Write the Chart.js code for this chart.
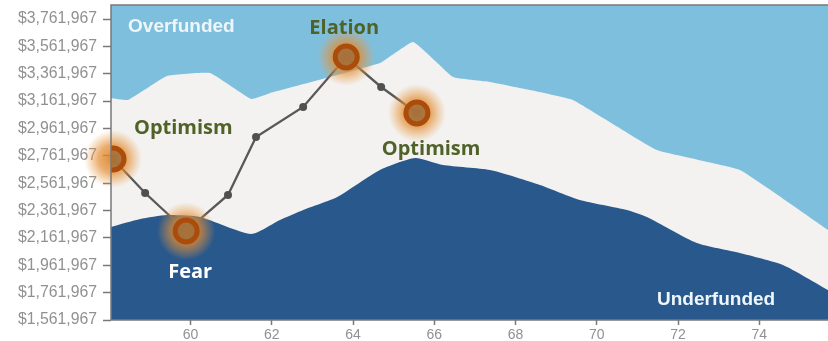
<!DOCTYPE html>
<html>
<head>
<meta charset="utf-8">
<script src="https://cdn.jsdelivr.net/npm/chart.js@4"></script>
<style>
	html, body { margin: 0; padding: 0; background: #fff; }
	#wrap { width: 828px; height: 341px; }
</style>
</head>
<body>
<div id="wrap"><canvas id="cycle" width="828" height="341"></canvas></div>
<script>
// funding bands (age, portfolio value)
const upperYears = [58.04, 58.46, 59.42, 60.48, 61.49, 61.96, 64.66, 65.48, 66.46, 67.37, 68.35, 69.41, 71.48, 73.52, 75.69];
const upperValues = [3185000, 3170000, 3345000, 3367000, 3177000, 3221000, 3440000, 3594000, 3338000, 3302000, 3243000, 3170000, 2804000, 2658000, 2220000];

const lowerYears = [58.04, 58.76, 59.42, 60.23, 61.49, 62.2, 62.77, 63.61, 64.66, 65.52, 66.21, 67.37, 68.6, 69.58, 70.74, 71.23, 72.46, 73.52, 74.58, 75.69];
const lowerValues = [2242000, 2300000, 2329000, 2315000, 2191000, 2293000, 2366000, 2461000, 2658000, 2746000, 2695000, 2658000, 2549000, 2439000, 2366000, 2315000, 2125000, 2052000, 1964000, 1781000];

// investor path
const pathYears = [58.09, 58.88, 59.89, 60.92, 61.61, 62.77, 63.83, 64.69, 65.57];
const pathValues = [2739000, 2490000, 2212000, 2476000, 2900000, 3119000, 3484000, 3265000, 3075000];
const markerIdx = [0, 2, 6, 8];

// text notes
const noteText = ['Optimism', 'Fear', 'Elation', 'Optimism'];
const noteYears = [59.82, 59.99, 63.78, 65.92];
const noteValues = [2962000, 1913000, 3696000, 2812000];

const bandText = ['Overfunded', 'Underfunded'];
const bandYears = [58.46, 71.48];
const bandValues = [3703500, 1708000];

const xTicks = [60, 62, 64, 66, 68, 70, 72, 74];
const yTicks = [1561967, 1761967, 1961967, 2161967, 2361967, 2561967, 2761967, 2961967, 3161967, 3361967, 3561967, 3761967];

const LIGHT = 'rgb(127,191,222)';
const MID = 'rgb(243,242,240)';
const DARK = 'rgb(41,88,140)';
const GREEN = 'rgb(79,98,40)';

function pts(xs, ys) {
	return xs.map((x, i) => ({ x: x, y: ys[i] }));
}

function noPad(s) {
	s.paddingTop = 0;
	s.paddingBottom = 0;
	s.paddingLeft = 0;
	s.paddingRight = 0;
}

const markers = markerIdx.map(i => ({ x: pathYears[i], y: pathValues[i] }));

const decor = {
	id: 'decor',
	beforeDatasetsDraw(chart) {
		const { ctx, chartArea: a } = chart;
		ctx.save();
		ctx.fillStyle = MID;
		ctx.fillRect(a.left, a.top, a.right - a.left, a.bottom - a.top);
		ctx.restore();
	},
	beforeDatasetDraw(chart, args) {
		if (args.meta.label !== 'Markers') return;
		const ctx = chart.ctx;
		ctx.save();
		args.meta.data.forEach(p => {
			let g = ctx.createRadialGradient(p.x, p.y, 0, p.x, p.y, 29);
			g.addColorStop(0, 'rgba(222,130,40,0.95)');
			g.addColorStop(0.5, 'rgba(226,140,50,0.7)');
			g.addColorStop(1, 'rgba(235,155,70,0)');
			ctx.fillStyle = g;
			ctx.beginPath();
			ctx.arc(p.x, p.y, 29, 0, Math.PI * 2);
			ctx.fill();
		});
		ctx.restore();
	},
	afterDatasetsDraw(chart) {
		const { ctx, chartArea: a, scales } = chart;
		ctx.save();
		ctx.strokeStyle = 'rgb(120,120,120)';
		ctx.lineWidth = 1.5;
		ctx.beginPath();
		ctx.moveTo(a.right + 2, a.top);
		ctx.lineTo(a.left, a.top);
		ctx.lineTo(a.left, a.bottom);
		ctx.lineTo(a.right + 2, a.bottom);
		ctx.stroke();

		ctx.textBaseline = 'middle';
		ctx.textAlign = 'center';
		ctx.font = 'bold 20px "Open Sans"';
		for (let i = 0; i < noteText.length; i++) {
			ctx.fillStyle = noteText[i] == 'Fear' ? '#ffffff' : GREEN;
			ctx.fillText(noteText[i], scales.x.getPixelForValue(noteYears[i]), scales.y.getPixelForValue(noteValues[i]));
		}
		ctx.textAlign = 'left';
		ctx.font = 'bold 19px "Liberation Sans"';
		ctx.fillStyle = 'rgb(238,246,250)';
		for (let i = 0; i < bandText.length; i++) {
			ctx.fillText(bandText[i], scales.x.getPixelForValue(bandYears[i]), scales.y.getPixelForValue(bandValues[i]));
		}
		ctx.restore();
	}
};

var ctx = document.getElementById('cycle').getContext('2d');
var chart = new Chart(ctx, {
	type: 'line',
	data: {
		datasets: [{
			label: 'Overfunded',
			data: pts(upperYears, upperValues),
			borderWidth: 0,
			borderColor: 'rgba(0,0,0,0)',
			backgroundColor: LIGHT,
			fill: 'end',
			pointRadius: 0,
			tension: 0.1,
			order: 5
		}, {
			label: 'Underfunded',
			data: pts(lowerYears, lowerValues),
			borderWidth: 0,
			borderColor: 'rgba(0,0,0,0)',
			backgroundColor: DARK,
			fill: 'start',
			pointRadius: 0,
			tension: 0.2,
			order: 4
		}, {
			label: 'Path',
			data: pts(pathYears, pathValues),
			borderColor: 'rgb(88,88,88)',
			borderWidth: 2.3,
			pointRadius: 4,
			pointBackgroundColor: 'rgb(80,80,80)',
			pointBorderWidth: 0,
			fill: false,
			tension: 0,
			order: 3
		}, {
			label: 'Markers',
			data: markers,
			showLine: false,
			pointRadius: 11,
			pointBorderWidth: 5,
			pointBorderColor: 'rgb(172,76,10)',
			pointBackgroundColor: 'rgba(160,110,60,0.85)',
			order: 1
		}]
	},
	options: {
		responsive: false,
		animation: false,
		layout: { autoPadding: false, padding: { top: 5, right: 0, left: 0, bottom: 0 } },
		plugins: {
			legend: { display: false },
			tooltip: { enabled: false }
		},
		scales: {
			x: {
				type: 'linear',
				min: 58.04,
				max: 75.69,
				afterBuildTicks: s => { s.ticks = xTicks.map(v => ({ value: v })); },
				afterFit: s => { s.height = 21; noPad(s); },
				grid: { drawOnChartArea: false, tickLength: 5, color: 'rgb(120,120,120)', tickWidth: 1.5 },
				border: { display: false },
				ticks: { color: 'rgb(145,145,145)', padding: 2, font: { family: 'Liberation Sans', size: 14 } }
			},
			y: {
				type: 'linear',
				min: 1561967,
				max: 3864300,
				afterBuildTicks: s => { s.ticks = yTicks.map(v => ({ value: v })); },
				afterFit: s => { s.width = 111; noPad(s); },
				grid: { drawOnChartArea: false, tickLength: 8, color: 'rgb(120,120,120)', tickWidth: 1.5 },
				border: { display: false },
				ticks: {
					color: 'rgb(145,145,145)',
					padding: 6,
					font: { family: 'Liberation Sans', size: 15.8 },
					callback: v => '$' + v.toLocaleString('en-US')
				}
			}
		}
	},
	plugins: [decor]
});
</script>
</body>
</html>
